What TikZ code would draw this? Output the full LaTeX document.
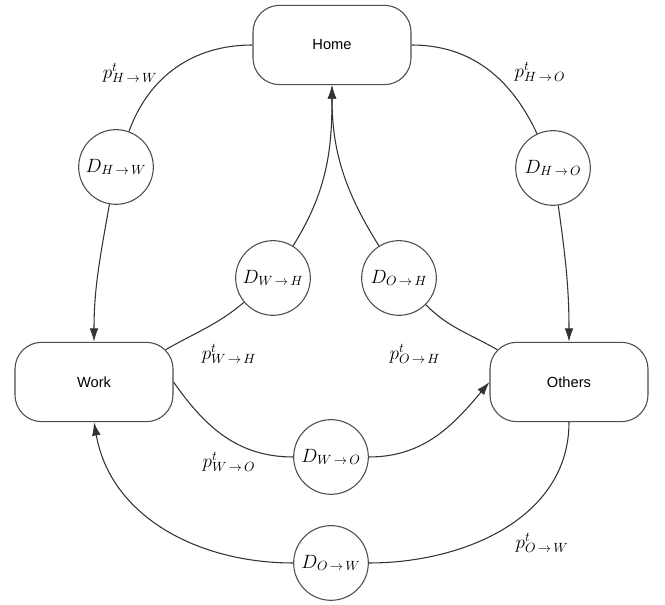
\documentclass[tikz,border=0pt]{standalone}
\usepackage{fontspec}
\setmainfont{Liberation Sans}
\usetikzlibrary{arrows.meta,calc}
\tikzset{
  place/.style={draw=black!70, line width=0.8pt, rounded corners=20pt, minimum width=118.5pt, minimum height=59.5pt, font=\fontsize{11}{13}\selectfont},
  delay/.style={draw=black!70, line width=0.8pt, circle, minimum size=56pt, inner sep=0pt, font=\Large},
  prob/.style={font=\Large},
  link/.style={draw=black!80, line width=0.8pt},
}
\newcommand{\tr}[2]{{#1\,\rightarrow\,#2}}

\begin{document}
\begin{tikzpicture}[x=0.75pt, y=0.75pt, >={Latex[length=10pt,width=6.5pt]}]
    \useasboundingbox (0,0) rectangle (665,605);
    % states
    \node[place] (home) at (332,560) {Home};
    \node[place] (work) at (94,223) {Work};
    \node[place] (others) at (569,223) {Others};
    % delays
    \node[delay] (dhw) at (116,438) {$D_{\tr{H}{W}}$};
    \node[delay] (dho) at (553,437) {$D_{\tr{H}{O}}$};
    \node[delay] (dwh) at (273,327) {$D_{\tr{W}{H}}$};
    \node[delay] (doh) at (399,327) {$D_{\tr{O}{H}}$};
    \node[delay] (dwo) at (331,148) {$D_{\tr{W}{O}}$};
    \node[delay] (dow) at (331,42) {$D_{\tr{O}{W}}$};
    % probabilities
    \node[prob] (phw) at (130,532) {$p^t_{\tr{H}{W}}$};
    \node[prob] (pho) at (540,533) {$p^t_{\tr{H}{O}}$};
    \node[prob] (pwh) at (229,251) {$p^t_{\tr{W}{H}}$};
    \node[prob] (poh) at (415,251) {$p^t_{\tr{O}{H}}$};
    \node[prob] (pwo) at (229,143) {$p^t_{\tr{W}{O}}$};
    \node[prob] (pow) at (542,62) {$p^t_{\tr{O}{W}}$};
    % transitions
    \draw[link] (home.west) to[out=180, in=70] (dhw);
    \draw[link, ->] (dhw) to[out=-100, in=90] (work.north);
    \draw[link] (home.east) to[out=0, in=115] (dho);
    \draw[link, ->] (dho) to[out=-82, in=90] (others.north);
    \draw[link] ([shift={(-6pt,-6pt)}]work.north east) to[out=30, in=-140] (dwh);
    \draw[link, ->] (dwh) to[out=58, in=-90] (home.south);
    \draw[link] ([shift={(6pt,-6pt)}]others.north west) to[out=150, in=-45] (doh);
    \draw[link, ->] (doh) to[out=122, in=-90] (home.south);
    \draw[link] (work.east) to[out=-55, in=180] (dwo);
    \draw[link, ->] (dwo) to[out=0, in=-130] (others.west);
    \draw[link] (others.south) to[out=-90, in=0] (dow);
    \draw[link, ->] (dow) to[out=180, in=-80] (work.south);
\end{tikzpicture}
\end{document}
